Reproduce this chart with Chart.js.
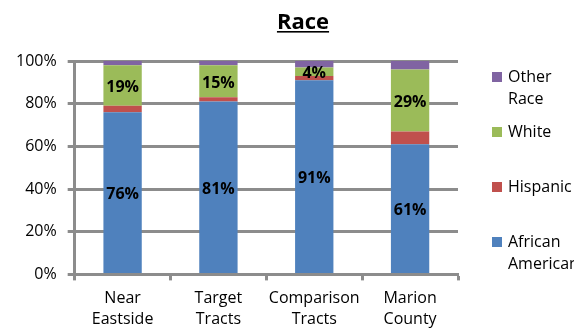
<!DOCTYPE html>
<html>
<head>
<meta charset="utf-8">
<script src="https://cdn.jsdelivr.net/npm/chart.js@4"></script>
<style>
  body { margin: 0; background: #fff; }
  #wrap { width: 574px; height: 328px; }
</style>
</head>
<body>
<div id="wrap"><canvas id="myChart" width="574" height="328"></canvas></div>
<script>
// data
var chartTitle = 'Race';
var categories = [['Near', 'Eastside'], ['Target', 'Tracts'], ['Comparison', 'Tracts'], ['Marion', 'County']];
var seriesNames = ['African American', 'Hispanic', 'White', 'Other Race'];
var africanAmerican = [76, 81, 91, 61];
var hispanic = [3, 2, 2, 6];
var white = [19, 15, 4, 29];
var otherRace = [2, 2, 3, 4];
var yTicks = [0, 20, 40, 60, 80, 100];

var colors = ['#4F81BD', '#C0504D', '#9BBB59', '#8064A2'];
var showValue = [true, false, true, false];
var font = "'Open Sans', sans-serif";

var seriesData = [africanAmerican, hispanic, white, otherRace];
var datasets = [];
for (var i = 0; i < seriesNames.length; i++) {
    datasets.push({
        label: seriesNames[i],
        data: seriesData[i],
        backgroundColor: colors[i],
        borderWidth: 0,
        categoryPercentage: 0.8,
        barPercentage: 0.5
    });
}

// title with underline, centred like the original
var titlePlugin = {
    id: 'underlinedTitle',
    afterDraw: function (chart) {
        var ctx = chart.ctx;
        ctx.save();
        ctx.font = "bold 22px " + font;
        ctx.fillStyle = '#000';
        ctx.textAlign = 'center';
        ctx.textBaseline = 'alphabetic';
        var cx = 303, base = 29;
        ctx.fillText(chartTitle, cx, base);
        var w = ctx.measureText(chartTitle).width;
        ctx.fillRect(cx - w / 2, base + 2, w, 1.6);
        ctx.restore();
    }
};

// value labels inside the blue and green segments
var valuePlugin = {
    id: 'valueLabels',
    afterDatasetsDraw: function (chart) {
        var ctx = chart.ctx;
        ctx.save();
        ctx.font = "bold 16px " + font;
        ctx.fillStyle = '#000';
        ctx.textAlign = 'center';
        ctx.textBaseline = 'middle';
        chart.data.datasets.forEach(function (ds, di) {
            if (!showValue[di]) return;
            var meta = chart.getDatasetMeta(di);
            meta.data.forEach(function (bar, j) {
                var y = (bar.y + bar.base) / 2 + 2;
                ctx.fillText(ds.data[j] + '%', bar.x, y);
            });
        });
        ctx.restore();
    }
};

// legend on the right, reversed, spread down the plot height
var legendPlugin = {
    id: 'sideLegend',
    afterDraw: function (chart) {
        var ctx = chart.ctx;
        var area = chart.chartArea;
        var dsets = chart.data.datasets;
        ctx.save();
        ctx.font = "16px " + font;
        ctx.textBaseline = 'middle';
        ctx.textAlign = 'left';
        for (var k = 0; k < dsets.length; k++) {
            var ds = dsets[dsets.length - 1 - k];
            var cy = area.top + 16 + k * 55;
            ctx.fillStyle = ds.backgroundColor;
            ctx.fillRect(492, cy - 5, 10, 10);
            ctx.fillStyle = '#000';
            var lines = ds.label.split(' ');
            for (var l = 0; l < lines.length; l++) {
                ctx.fillText(lines[l], 508, cy + l * 22);
            }
        }
        ctx.restore();
    }
};

window.onload = function () {
    var ctx = document.getElementById('myChart');
    window.myBar = new Chart(ctx, {
        type: 'bar',
        data: { labels: categories, datasets: datasets },
        plugins: [titlePlugin, valuePlugin, legendPlugin],
        options: {
            responsive: false,
            animation: false,
            layout: { padding: { top: 61, right: 116, left: 5, bottom: -10 } },
            plugins: {
                legend: { display: false },
                title: { display: false },
                tooltip: { enabled: false }
            },
            scales: {
                x: {
                    stacked: true,
                    grid: {
                        display: true,
                        offset: true,
                        drawOnChartArea: false,
                        drawTicks: true,
                        tickLength: 6,
                        tickWidth: 3,
                        tickColor: '#8c8c8c'
                    },
                    border: { display: true, color: '#8c8c8c', width: 3 },
                    ticks: {
                        color: '#000',
                        padding: 8,
                        maxRotation: 0,
                        font: { family: font, size: 16, lineHeight: 1.3 }
                    }
                },
                y: {
                    stacked: true,
                    min: yTicks[0],
                    max: yTicks[yTicks.length - 1],
                    afterBuildTicks: function (scale) {
                        scale.ticks = yTicks.map(function (v) { return { value: v }; });
                    },
                    grid: {
                        color: '#8c8c8c',
                        lineWidth: 3,
                        tickLength: 7
                    },
                    border: { display: true, color: '#8c8c8c', width: 3 },
                    ticks: {
                        color: '#000',
                        padding: 11,
                        font: { family: font, size: 16 },
                        callback: function (v) { return v + '%'; }
                    }
                }
            }
        }
    });
};
</script>
</body>
</html>
